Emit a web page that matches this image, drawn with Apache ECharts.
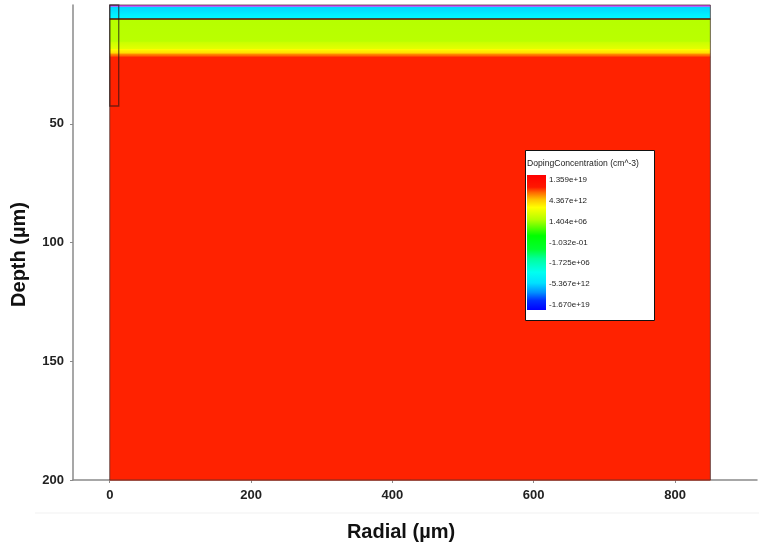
<!DOCTYPE html>
<html>
<head>
<meta charset="utf-8">
<script src="https://cdn.jsdelivr.net/npm/echarts@6/dist/echarts.min.js"></script>
<style>
  html, body { margin: 0; padding: 0; background: #fff; }
  #chart { width: 759px; height: 550px; }
</style>
</head>
<body>
<div id="chart"></div>
<script>
// Device cross-section: doping layers versus depth, across the radial extent
const radialExtent = [0, 850];            // µm
const depthExtent = [0, 200];             // µm
const layerTop    = [0, 0.7, 5.9, 15.5, 18.5, 20.4, 21.8];
const layerBottom = [0.7, 5.9, 15.5, 18.5, 20.4, 21.8, 200];

// Electrode column and the junction interface (µm)
const electrodeRadial = [0, 12.7];
const electrodeDepth = [0, 42.5];
const interfaceDepth = 5.9;

// Axis ticks
const radialTicks = [0, 200, 400, 600, 800];
const depthTicks = [50, 100, 150, 200];

// Colour bar tick labels, top to bottom
const legendTitle = 'DopingConcentration (cm^-3)';
const legendLabels = ['1.359e+19', '4.367e+12', '1.404e+06', '-1.032e-01',
                      '-1.725e+06', '-5.367e+12', '-1.670e+19'];

// Layer shading (top colour, bottom colour)
const layerColors = [
  ['#e03cff', '#d850ff'],
  ['#00d4ff', '#00ffff'],
  ['#b6ff00', '#baff00'],
  ['#c8ff00', '#e6ff00'],
  ['#ffff00', '#ffd400'],
  ['#ffa000', '#ff3c00'],
  ['#ff2200', '#ff2200']
];
const colorbarStops = [
  [0.00, '#ff0000'], [0.09, '#ff1800'], [0.13, '#ff6a00'], [0.18, '#ffc000'],
  [0.24, '#ffff00'], [0.33, '#b4ff00'], [0.45, '#00ff00'], [0.55, '#00ff30'],
  [0.62, '#00ff9c'], [0.72, '#00fff0'], [0.80, '#00e0ff'], [0.87, '#0090ff'],
  [0.93, '#0030ff'], [1.00, '#0000ff']
];

const layerData = layerTop.map((t, i) => [t, layerBottom[i]]);
const font = '"Liberation Sans", Arial, sans-serif';

const chart = echarts.init(document.getElementById('chart'), null, { renderer: 'canvas' });

const axisGray = '#8a8a8a';

chart.setOption({
  animation: false,
  backgroundColor: '#ffffff',
  grid: [
    { left: 73, right: 2, top: 5, bottom: 70 },
    { left: 527, top: 175, width: 19, height: 135 }
  ],
  xAxis: [
    {
      gridIndex: 0, type: 'value', min: -52, max: 916, position: 'bottom',
      name: 'Radial (µm)', nameLocation: 'middle', nameGap: 42,
      nameTextStyle: { fontFamily: font, fontWeight: 'bold', fontSize: 20, color: '#111', padding: [0, 28, 0, 0] },
      axisLine: { onZero: false, lineStyle: { color: axisGray, width: 1.5 } },
      axisTick: { show: true, length: 3, customValues: radialTicks, lineStyle: { color: axisGray } },
      axisLabel: { customValues: radialTicks, margin: 9, fontFamily: font, fontWeight: 'bold', fontSize: 13, color: '#222' },
      splitLine: { show: false }
    },
    {
      gridIndex: 1, type: 'value', min: 0, max: 1, show: false
    }
  ],
  yAxis: [
    {
      gridIndex: 0, type: 'value', min: depthExtent[0], max: depthExtent[1], inverse: true, position: 'left',
      name: 'Depth (µm)', nameLocation: 'middle', nameGap: 44,
      nameTextStyle: { fontFamily: font, fontWeight: 'bold', fontSize: 20, color: '#111', padding: [0, 24, 0, 0] },
      axisLine: { onZero: false, lineStyle: { color: axisGray, width: 1.5 } },
      axisTick: { show: true, length: 3, customValues: depthTicks, lineStyle: { color: axisGray } },
      axisLabel: { customValues: depthTicks, margin: 9, fontFamily: font, fontWeight: 'bold', fontSize: 13, color: '#222' },
      splitLine: { show: false }
    },
    {
      gridIndex: 1, type: 'value', min: -0.25, max: 6.25, inverse: true, position: 'right', z: 12,
      axisLine: { show: false }, axisTick: { show: false }, splitLine: { show: false },
      axisLabel: {
        customValues: [0, 1, 2, 3, 4, 5, 6], margin: 3,
        fontFamily: font, fontSize: 8, color: '#222',
        formatter: v => legendLabels[Math.round(v)]
      }
    }
  ],
  graphic: [
    {
      type: 'line', z: 1, silent: true,
      shape: { x1: 35, y1: 513, x2: 759, y2: 513 },
      style: { stroke: '#f1f1f1', lineWidth: 1 }
    },
    {
      type: 'rect', z: 8, silent: true,
      shape: { x: 525.5, y: 150.5, width: 129, height: 170 },
      style: { fill: '#ffffff', stroke: '#111', lineWidth: 1 }
    },
    {
      type: 'text', z: 9, silent: true, left: 527, top: 159,
      style: { text: legendTitle, font: '8.6px ' + font, fill: '#222' }
    }
  ],
  series: [
    {
      // doping layers
      type: 'custom', xAxisIndex: 0, yAxisIndex: 0, z: 2,
      data: layerData,
      renderItem: (params, api) => {
        const p0 = api.coord([radialExtent[0], api.value(0)]);
        const p1 = api.coord([radialExtent[1], api.value(1)]);
        const c = layerColors[params.dataIndex];
        return {
          type: 'rect',
          shape: { x: p0[0], y: p0[1], width: p1[0] - p0[0], height: p1[1] - p0[1] + 0.5 },
          style: {
            fill: new echarts.graphic.LinearGradient(0, 0, 0, 1, [
              { offset: 0, color: c[0] }, { offset: 1, color: c[1] }
            ])
          }
        };
      }
    },
    {
      // domain outline, electrode column and interface line
      type: 'custom', xAxisIndex: 0, yAxisIndex: 0, z: 3,
      data: [0],
      renderItem: (params, api) => {
        const d0 = api.coord([radialExtent[0], depthExtent[0]]);
        const d1 = api.coord([radialExtent[1], depthExtent[1]]);
        const e0 = api.coord([electrodeRadial[0], electrodeDepth[0]]);
        const e1 = api.coord([electrodeRadial[1], electrodeDepth[1]]);
        const i0 = api.coord([radialExtent[0], interfaceDepth]);
        const i1 = api.coord([radialExtent[1], interfaceDepth]);
        return {
          type: 'group',
          children: [
            { type: 'rect', shape: { x: d0[0], y: d0[1], width: d1[0] - d0[0], height: d1[1] - d0[1] },
              style: { fill: 'none', stroke: 'rgba(70,50,50,0.75)', lineWidth: 1 } },
            { type: 'line', shape: { x1: i0[0], y1: i0[1], x2: i1[0], y2: i1[1] },
              style: { stroke: 'rgba(90,10,0,0.75)', lineWidth: 1.8 } },
            { type: 'rect', shape: { x: e0[0], y: e0[1], width: e1[0] - e0[0], height: e1[1] - e0[1] },
              style: { fill: 'none', stroke: 'rgba(30,20,20,0.6)', lineWidth: 1.4 } }
          ]
        };
      }
    },
    {
      // colour bar
      type: 'custom', xAxisIndex: 1, yAxisIndex: 1, z: 10,
      data: [0],
      renderItem: (params) => {
        const cs = params.coordSys;
        return {
          type: 'rect',
          shape: { x: cs.x, y: cs.y, width: cs.width, height: cs.height },
          style: {
            fill: new echarts.graphic.LinearGradient(0, 0, 0, 1,
              colorbarStops.map(s => ({ offset: s[0], color: s[1] })))
          }
        };
      }
    }
  ]
});
</script>
</body>
</html>
